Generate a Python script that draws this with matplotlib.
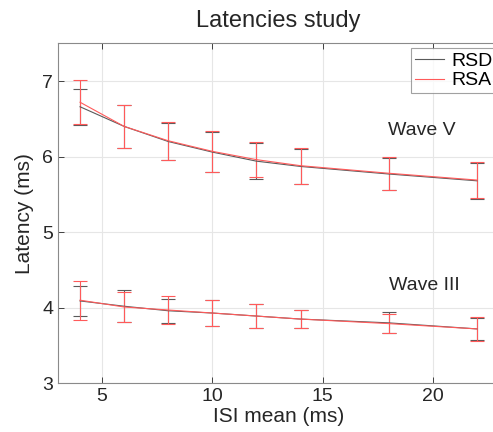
import numpy as np
import matplotlib.pyplot as plt
from matplotlib.lines import Line2D

plt.rcParams['font.family'] = ['Liberation Sans', 'DejaVu Sans']

# ISI mean (ms)
isi = [4, 6, 8, 10, 12, 14, 18, 22]

# Wave V latencies (ms)
v_rsd = [6.66, 6.40, 6.20, 6.06, 5.94, 5.87, 5.77, 5.68]
v_rsd_err = [0.24, 0.28, 0.25, 0.26, 0.24, 0.23, 0.21, 0.24]
v_rsa = [6.72, 6.40, 6.21, 6.07, 5.96, 5.88, 5.78, 5.69]
v_rsa_err = [0.29, 0.28, 0.25, 0.27, 0.235, 0.24, 0.22, 0.235]

# Wave III latencies (ms)
iii_rsd = [4.09, 4.02, 3.96, 3.93, 3.89, 3.85, 3.80, 3.72]
iii_rsd_err = [0.20, 0.21, 0.16, 0.17, 0.16, 0.12, 0.14, 0.15]
iii_rsa = [4.10, 4.01, 3.97, 3.93, 3.89, 3.85, 3.79, 3.72]
iii_rsa_err = [0.26, 0.20, 0.18, 0.17, 0.16, 0.12, 0.13, 0.16]

c_rsd = '#5a5a5a'
c_rsa = '#ff5a5a'

fig = plt.figure(figsize=(4.93, 4.32), dpi=100)
ax = fig.add_axes([58/493, 1 - 383.3/432, (499 - 58)/493, (383.3 - 43.3)/432])

kw = dict(lw=0.8, capsize=5, elinewidth=0.8, capthick=0.8)
ax.errorbar(isi, v_rsd, yerr=v_rsd_err, color=c_rsd, **kw)
ax.errorbar(isi, iii_rsd, yerr=iii_rsd_err, color=c_rsd, **kw)
ax.errorbar(isi, v_rsa, yerr=v_rsa_err, color=c_rsa, **kw)
ax.errorbar(isi, iii_rsa, yerr=iii_rsa_err, color=c_rsa, **kw)

ax.set_xlim(3, 23)
ax.set_ylim(3, 7.5)
ax.set_xticks([5, 10, 15, 20])
ax.set_yticks([3, 4, 5, 6, 7])
ax.grid(True, color='#e6e6e6', lw=0.8)
ax.set_axisbelow(True)
ax.tick_params(direction='in', top=True, right=True, labelsize=14,
               colors='#262626', length=4, width=0.6)
for s in ax.spines.values():
    s.set_color('#8a8a8a')
    s.set_linewidth(0.8)

ax.set_xlabel('ISI mean (ms)', fontsize=15, color='#262626', labelpad=1)
ax.set_ylabel('Latency (ms)', fontsize=15, color='#262626', labelpad=6)
ax.set_title('Latencies study', fontsize=17, color='#262626', pad=12)

ax.text(19.5, 6.34, 'Wave V', fontsize=14, ha='center', va='center', color='#262626')
ax.text(19.6, 4.29, 'Wave III', fontsize=14, ha='center', va='center', color='#262626')

handles = [Line2D([], [], color=c_rsd, lw=0.8), Line2D([], [], color=c_rsa, lw=0.8)]
leg = ax.legend(handles, ['RSD', 'RSA'], loc='upper right',
                bbox_to_anchor=(0.995, 0.985), fontsize=14,
                frameon=True, fancybox=False, edgecolor='#8a8a8a',
                handlelength=1.5, handletextpad=0.4, borderpad=0.2,
                labelspacing=0.1, borderaxespad=0)
leg.get_frame().set_linewidth(0.8)

fig.savefig('out.png', dpi=100)
